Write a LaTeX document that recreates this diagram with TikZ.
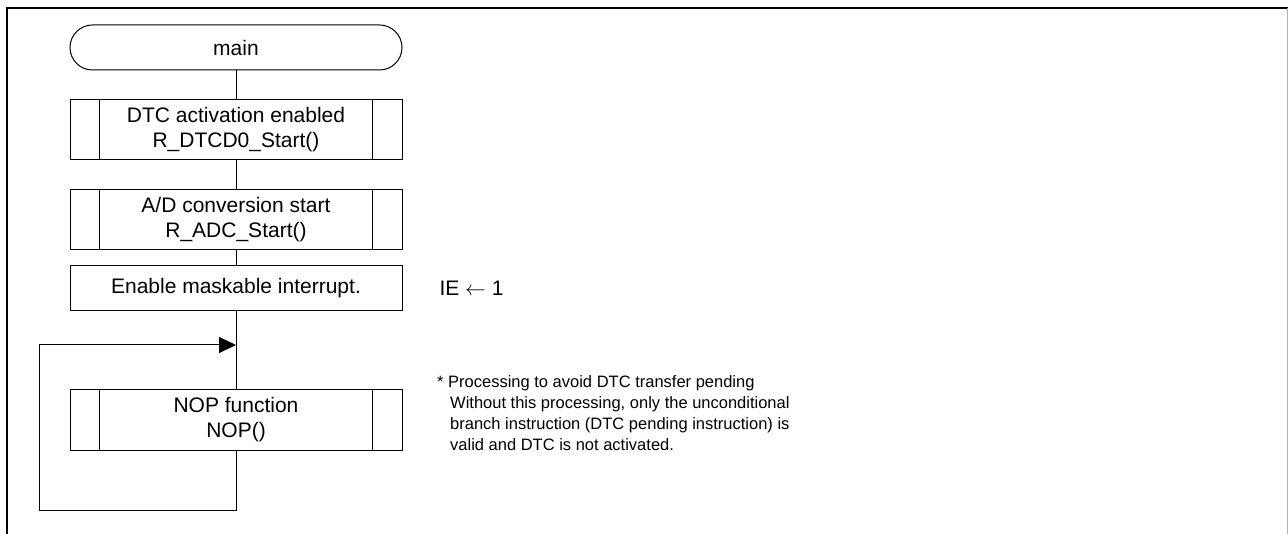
\documentclass[tikz,border=0pt]{standalone}
\usepackage{fontspec}
\setmainfont{Liberation Sans}
\usetikzlibrary{arrows.meta}
\tikzset{
  boxtext/.style={font=\fontsize{21pt}{25pt}\selectfont},
  procbox/.style={draw, line width=1pt, boxtext, align=center, inner sep=0pt,
    minimum width=332pt, minimum height=60pt},
  termbox/.style={procbox, minimum height=45pt, rounded corners=22.5pt},
  flow/.style={line width=1pt},
}
\begin{document}
\begin{tikzpicture}[x=1pt,y=-1pt]
   \useasboundingbox (0,0) rectangle (1288,534);
   \draw[line width=2.5pt] (7,534) -- (7,8) -- (1288,8);
   \draw[gray!60, line width=1pt] (1287,8) -- (1287,534);

   \node[termbox] (main) at (236,47.5) {main};
   \node[procbox] (dtc) at (236,130) {DTC activation enabled\\R\_DTCD0\_Start()};
   \node[procbox] (adc) at (236,220) {A/D conversion start\\R\_ADC\_Start()};
   \node[procbox, minimum height=45pt] (ie) at (236,288.5) {Enable maskable interrupt.};
   \node[procbox] (nop) at (236,420) {NOP function\\NOP()};

   \foreach \n in {dtc,adc,nop} {
     \draw[flow] ([xshift=30pt]\n.north west) -- ([xshift=30pt]\n.south west);
     \draw[flow] ([xshift=-30pt]\n.north east) -- ([xshift=-30pt]\n.south east);
   }

   \coordinate (loop) at (236,345);
   \draw[flow] (main) -- (dtc);
   \draw[flow] (dtc) -- (adc);
   \draw[flow] (adc) -- (ie);
   \draw[flow] (ie) -- (nop);
   \draw[flow, -{Triangle[length=17pt,width=16pt]}] (nop.south) -- ++(0,60) -| (39,345) -- (loop);

   \node[boxtext, anchor=west] (ienote) at (436,288.5) {IE $\leftarrow$ 1};
   \node[font=\fontsize{16.5pt}{21pt}\selectfont, align=left, anchor=north west, inner sep=0pt] (note) at (437,375)
     {* Processing to avoid DTC transfer pending\\
      \hspace*{13pt}Without this processing, only the unconditional\\
      \hspace*{13pt}branch instruction (DTC pending instruction) is\\
      \hspace*{13pt}valid and DTC is not activated.};
\end{tikzpicture}
\end{document}
